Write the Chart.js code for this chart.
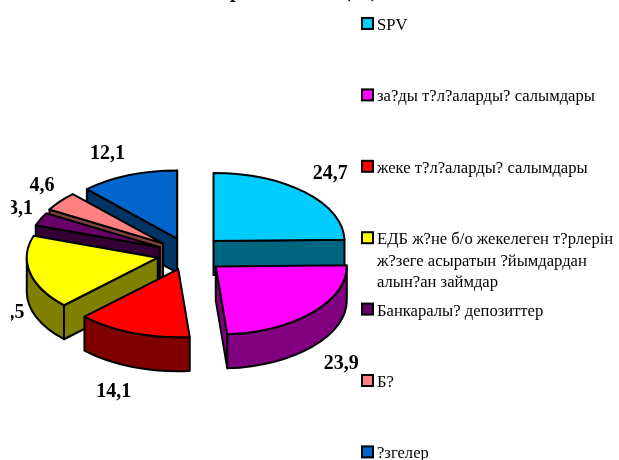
<!DOCTYPE html>
<html>
<head>
<meta charset="utf-8">
<style>
html, body { margin: 0; padding: 0; background: #fff; overflow: hidden; }
#wrap { position: relative; width: 619px; height: 460px; }
</style>
<script src="https://cdn.jsdelivr.net/npm/chart.js@4"></script>
</head>
<body>
<div id="wrap"><canvas id="pie"></canvas></div>
<script>
// chart data
const categories = ["SPV", "за?ды т?л?аларды? салымдары", "жеке т?л?аларды? салымдары",
    ["ЕДБ ж?не б/о жекелеген т?рлерін", "ж?зеге асыратын ?йымдардан", "алын?ан займдар"],
    "Банкаралы? депозиттер", "Б?", "?згелер"];
const shares = [24.7, 23.9, 14.1, 17.5, 3.1, 4.6, 12.1];
const shareLabels = ["24,7", "23,9", "14,1", "17,5", "3,1", "4,6", "12,1"];
const titleHead = "р";
const titleTail = "(%)";

// styling
const topColors = ["#00CCFF", "#FF00FF", "#FF0000", "#FFFF00", "#660066", "#FF8080", "#0066CC"];
const wallColors = ["#006680", "#800080", "#800000", "#808000", "#330033", "#804040", "#003366"];
const explode = [35, 36, 31, 32, 32, 33, 32];
const labelShift = [[25, -19], [28, 52], [-19, 59], [-23, 40], [-20, -10], [-18, -15], [-21, -21]];
const SQUASH = 0.52;
const DEPTH = 34;

// draws the slices as a tilted, exploded pie from the arc elements of the library
const tiltedPie = {
    id: "tiltedPie",
    beforeDatasetsDraw(chart) {
        const ctx = chart.ctx;
        const arcs = chart.getDatasetMeta(0).data;
        const order = arcs.map((a, i) => i).sort((p, q) => {
            return midY(arcs[p]) - midY(arcs[q]);
        });

        order.forEach(i => {
            const arc = arcs[i];
            const p = arc.getProps(["x", "y", "startAngle", "endAngle", "outerRadius"], true);
            const mid = (p.startAngle + p.endAngle) / 2;
            const ox = p.x + Math.cos(mid) * explode[i];
            const oy = p.y + Math.sin(mid) * explode[i] * SQUASH;
            const r = p.outerRadius;
            const edge = a => [ox + Math.cos(a) * r, oy + Math.sin(a) * r * SQUASH];

            ctx.save();
            ctx.lineWidth = 2;
            ctx.lineJoin = "round";
            ctx.strokeStyle = "#000";
            ctx.fillStyle = wallColors[i];

            // cut faces, only those turned to the viewer
            [[p.startAngle, -Math.PI / 2], [p.endAngle, Math.PI / 2]].forEach(([a, turn]) => {
                if (Math.sin(a + turn) <= 0) return;
                const e = edge(a);
                ctx.beginPath();
                ctx.moveTo(ox, oy);
                ctx.lineTo(e[0], e[1]);
                ctx.lineTo(e[0], e[1] + DEPTH);
                ctx.lineTo(ox, oy + DEPTH);
                ctx.closePath();
                ctx.fill();
                ctx.stroke();
            });

            // outer wall, only the part facing the viewer
            const from = Math.max(p.startAngle, 0);
            const to = Math.min(p.endAngle, Math.PI);
            if (to > from) {
                ctx.beginPath();
                ctx.ellipse(ox, oy, r, r * SQUASH, 0, from, to);
                ctx.ellipse(ox, oy + DEPTH, r, r * SQUASH, 0, to, from, true);
                ctx.closePath();
                ctx.fill();
                ctx.stroke();
            }

            // top face, filled by the arc element itself
            ctx.save();
            ctx.translate(ox, oy);
            ctx.scale(1, SQUASH);
            ctx.translate(-p.x, -p.y);
            arc.draw(ctx);
            ctx.restore();

            ctx.beginPath();
            ctx.moveTo(ox, oy);
            ctx.ellipse(ox, oy, r, r * SQUASH, 0, p.startAngle, p.endAngle);
            ctx.closePath();
            ctx.stroke();
            ctx.restore();
        });
        return false;
    },
    afterDraw(chart) {
        const ctx = chart.ctx;
        const arcs = chart.getDatasetMeta(0).data;

        // value labels, cut off by the left edge of the chart frame as in the source
        ctx.save();
        ctx.beginPath();
        ctx.rect(11, 0, 608, 460);
        ctx.clip();
        ctx.font = "bold 20px 'Liberation Serif'";
        ctx.fillStyle = "#000";
        ctx.textAlign = "center";
        ctx.textBaseline = "middle";
        arcs.forEach((arc, i) => {
            const p = arc.getProps(["x", "y", "startAngle", "endAngle", "outerRadius"], true);
            const mid = (p.startAngle + p.endAngle) / 2;
            const d = p.outerRadius + explode[i];
            const lx = p.x + Math.cos(mid) * d + labelShift[i][0];
            const ly = p.y + Math.sin(mid) * d * SQUASH + labelShift[i][1];
            ctx.fillText(shareLabels[i], lx, ly);
        });
        ctx.restore();

        // title, only the bottom of it is inside the picture
        ctx.save();
        ctx.font = "bold 20px 'Liberation Serif'";
        ctx.fillStyle = "#000";
        ctx.textBaseline = "alphabetic";
        ctx.fillText(titleHead, 230, -3);
        ctx.fillText(titleTail, 344, -3);
        ctx.restore();

        // legend
        ctx.save();
        ctx.font = "16.6px 'Liberation Serif'";
        ctx.textBaseline = "alphabetic";
        categories.forEach((label, i) => {
            const base = 30 + i * 71.4;
            ctx.fillStyle = "#000";
            ctx.fillRect(361, base - 13, 13, 13);
            ctx.fillStyle = topColors[i];
            ctx.fillRect(363, base - 11, 9, 9);
            ctx.fillStyle = "#000";
            [].concat(label).forEach((line, n) => {
                ctx.fillText(line, 377, base + n * 21.5);
            });
        });
        ctx.restore();
    }
};

function midY(arc) {
    const p = arc.getProps(["startAngle", "endAngle"], true);
    return Math.sin((p.startAngle + p.endAngle) / 2);
}

new Chart(document.getElementById("pie"), {
    type: "pie",
    data: {
        labels: categories,
        datasets: [{
            data: shares,
            backgroundColor: topColors,
            borderWidth: 0
        }]
    },
    options: {
        responsive: true,
        maintainAspectRatio: false,
        animation: false,
        layout: { padding: { left: 58, right: 299, top: 123, bottom: 75 } },
        plugins: {
            legend: { display: false },
            tooltip: { enabled: false }
        }
    },
    plugins: [tiltedPie]
});
</script>
</body>
</html>
